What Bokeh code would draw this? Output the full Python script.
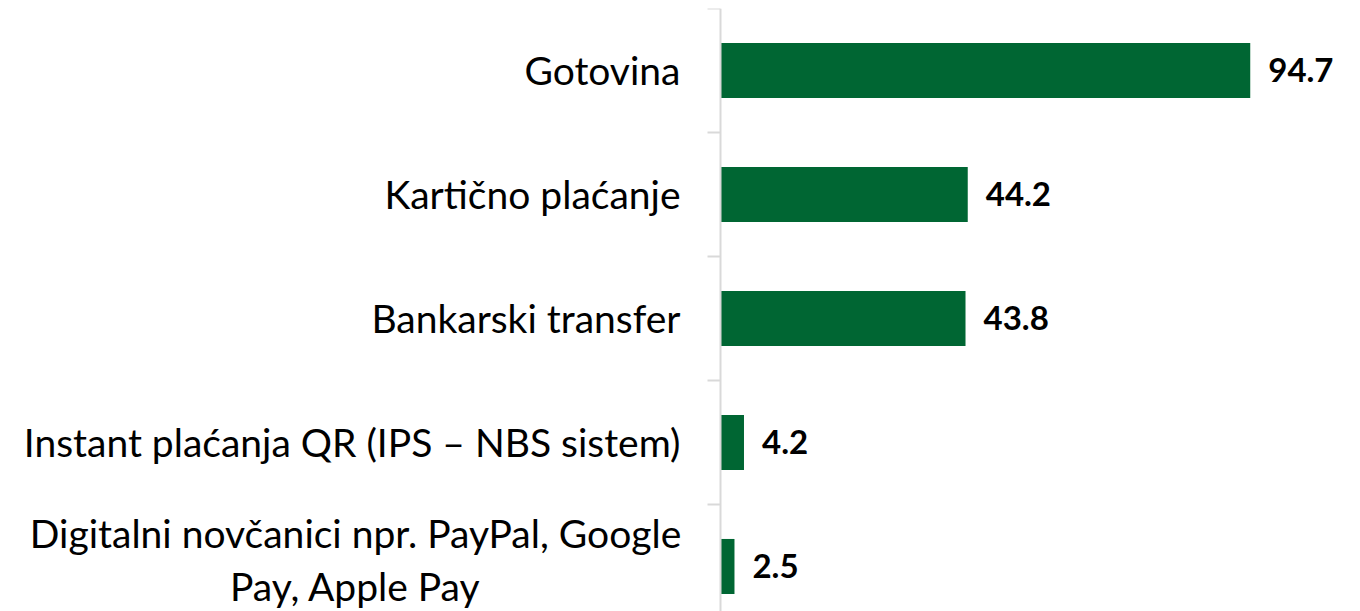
from bokeh.plotting import figure
from bokeh.models import Range1d, FixedTicker, ColumnDataSource, Label
from bokeh.core.properties import value
from bokeh.embed import file_html
from bokeh.resources import INLINE

categories = [
    "Gotovina",
    "Kartično plaćanje",
    "Bankarski transfer",
    "Instant plaćanja QR (IPS – NBS sistem)",
    "Digitalni novčanici npr. PayPal, Google\nPay, Apple Pay",
]
values = [94.7, 44.2, 43.8, 4.2, 2.5]
value_labels = ["94.7", "44.2", "43.8", "4.2", "2.5"]

positions = list(range(len(categories)))
src = ColumnDataSource(dict(y=positions, v=values, lab=value_labels))

p = figure(
    width=1360, height=611,
    x_range=Range1d(-128.71, 114.41),
    y_range=Range1d(4.363, -0.5),
    output_backend="svg", toolbar_location=None,
    min_border_left=0, min_border_right=0, min_border_top=8, min_border_bottom=0,
)
p.outline_line_color = None
p.xgrid.visible = False
p.ygrid.visible = False
p.xaxis.visible = False

p.hbar(y="y", right="v", left=0, height=0.444, source=src,
       fill_color="#006633", line_color=None)

p.text(x="v", y="y", text="lab", source=src, x_offset=18,
       text_baseline="middle", text_align="left",
       text_font=value("Lato"), text_font_style="bold",
       text_font_size="33px", text_color="black")

# single-line category labels on the axis; the two-line one is centred like the original
overrides = {}
multi = []
for i, c in zip(positions, categories):
    if "\n" in c:
        overrides[i] = ""
        multi.append((i, c))
    else:
        overrides[i] = c

ya = p.yaxis[0]
ya.fixed_location = 0
ya.ticker = FixedTicker(ticks=positions,
                        minor_ticks=[i - 0.5 for i in range(len(categories) + 1)])
ya.major_label_overrides = overrides
ya.axis_line_color = "#d9d9d9"
ya.axis_line_width = 2
ya.major_tick_line_color = None
ya.major_tick_out = 0
ya.major_tick_in = 0
ya.minor_tick_line_color = "#d9d9d9"
ya.minor_tick_line_width = 2
ya.minor_tick_out = 13
ya.minor_tick_in = 0
ya.major_label_standoff = 27
ya.major_label_text_font = "Lato"
ya.major_label_text_font_size = "39px"
ya.major_label_text_color = "black"

for i, c in multi:
    p.add_layout(Label(x=0, y=i, text=c, x_offset=-365, y_offset=7,
                       text_align="center", text_baseline="middle",
                       text_font="Lato", text_font_size="39px",
                       text_line_height=1.15, text_color="black"))

open("out.html", "w").write(file_html(p, INLINE))
